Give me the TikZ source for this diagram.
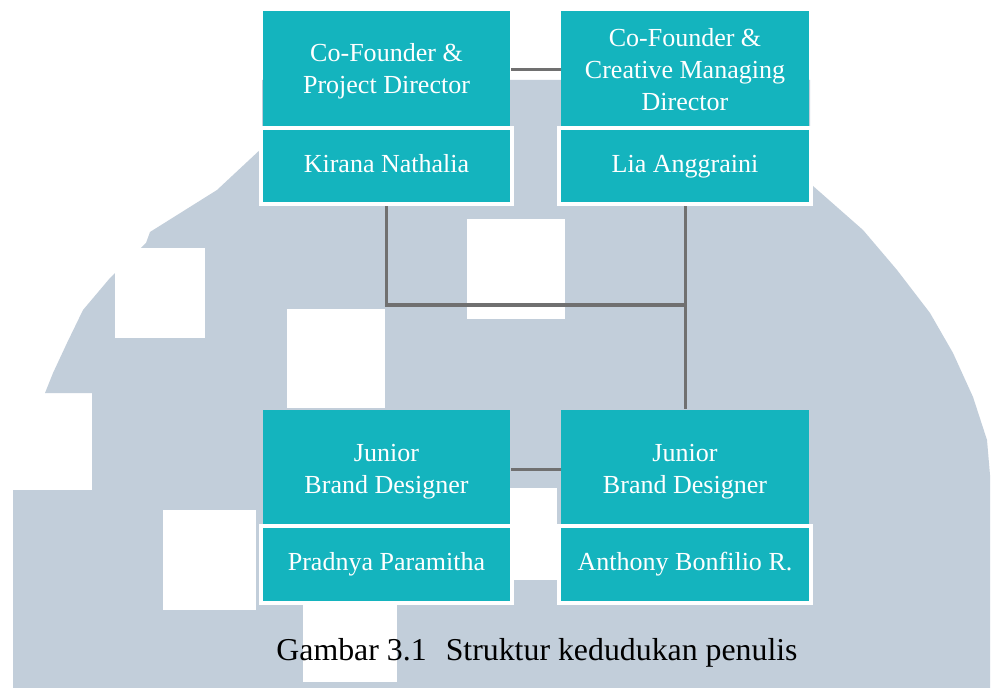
\documentclass[tikz,border=0pt]{standalone}
\usepackage{fontspec}
\setmainfont{Liberation Serif}
\definecolor{teal1}{RGB}{20,180,190}
\definecolor{wm}{RGB}{194,206,218}
\definecolor{conn}{RGB}{112,112,112}
\newcommand\firstln[1]{\rule{0pt}{#1}}
\pgfdeclarelayer{bgzero}
\pgfdeclarelayer{bgone}
\pgfsetlayers{bgzero,bgone,main}
\begin{document}
\begin{tikzpicture}[x=0.01cm,y=-0.01cm,
  titlebox/.style={fill=teal1, text=white, inner sep=0pt, minimum width=2.47cm, minimum height=1.15cm, align=center, font=\fontsize{7.4}{9}\selectfont},
  namebox/.style={fill=teal1, draw=white, line width=0.04cm, text=white, inner sep=0pt, minimum width=2.51cm, minimum height=0.76cm, font=\fontsize{7.4}{9}\selectfont},
  link/.style={draw=conn, line width=0.03cm},
  hole/.style={fill=white}]
\useasboundingbox (0,0) rectangle (1000,688);

\begin{pgfonlayer}{bgzero}
  \fill[white] (0,0) rectangle (1000,688);
  \fill[wm] (262,148) -- (262,80) -- (810,80) -- (810,178) -- (813,186)
    -- (863,230) -- (897,270) -- (930,313) -- (953,353) -- (973,397)
    -- (987,440) -- (990,475) -- (990,688) -- (13,688) -- (13,490)
    -- (92,490) -- (92,393) -- (45,393) -- (53,373) -- (67,343)
    -- (83,310) -- (110,278) -- (146,243) -- (150,232) -- (217,190) -- cycle;
  \fill[hole] (467,219) rectangle (565,319);
  \fill[hole] (287,309) rectangle (385,408);
  \fill[hole] (115,248) rectangle (205,338);
  \fill[hole] (163,510) rectangle (256,610);
  \fill[hole] (303,600) rectangle (397,682);
  \fill[hole] (510,488) rectangle (557,580);
\end{pgfonlayer}

\node[titlebox] (t1) at (386.5,68.5) {\firstln{8pt}Co-Founder \&\strut\\Project Director\strut};
\node[namebox] (n1) at (386.5,166) {Kirana Nathalia\strut};
\node[titlebox] (t2) at (685,68.5) {\firstln{8.4pt}Co-Founder \&\strut\\Creative Managing\strut\\Director\strut};
\node[namebox] (n2) at (685,166) {Lia Anggraini\strut};
\node[titlebox] (b1t) at (386.5,467.5) {\firstln{8.4pt}Junior\strut\\Brand Designer\strut};
\node[namebox] (b1n) at (386.5,564.5) {Pradnya Paramitha\strut};
\node[titlebox] (b2t) at (685,467.5) {\firstln{8.4pt}Junior\strut\\Brand Designer\strut};
\node[namebox] (b2n) at (685,564.5) {Anthony Bonfilio R.\strut};

\coordinate (j) at (685,305);
\begin{pgfonlayer}{bgone}
  \draw[link] ([yshift=-0.015cm]t1.east) -- ([yshift=-0.015cm]t2.west);
  \draw[link] (n1.south) |- (j);
  \draw[link] (n2.south) -- (b2t.north);
  \draw[link] ([yshift=-0.015cm]b1t.east) -- ([yshift=-0.015cm]b2t.west);
\end{pgfonlayer}

\node[font=\fontsize{9.05}{11}\selectfont, anchor=base, inner sep=0pt] (cap) at (537,660) {Gambar 3.1\hspace{0.6em}Struktur kedudukan penulis};
\end{tikzpicture}
\end{document}
